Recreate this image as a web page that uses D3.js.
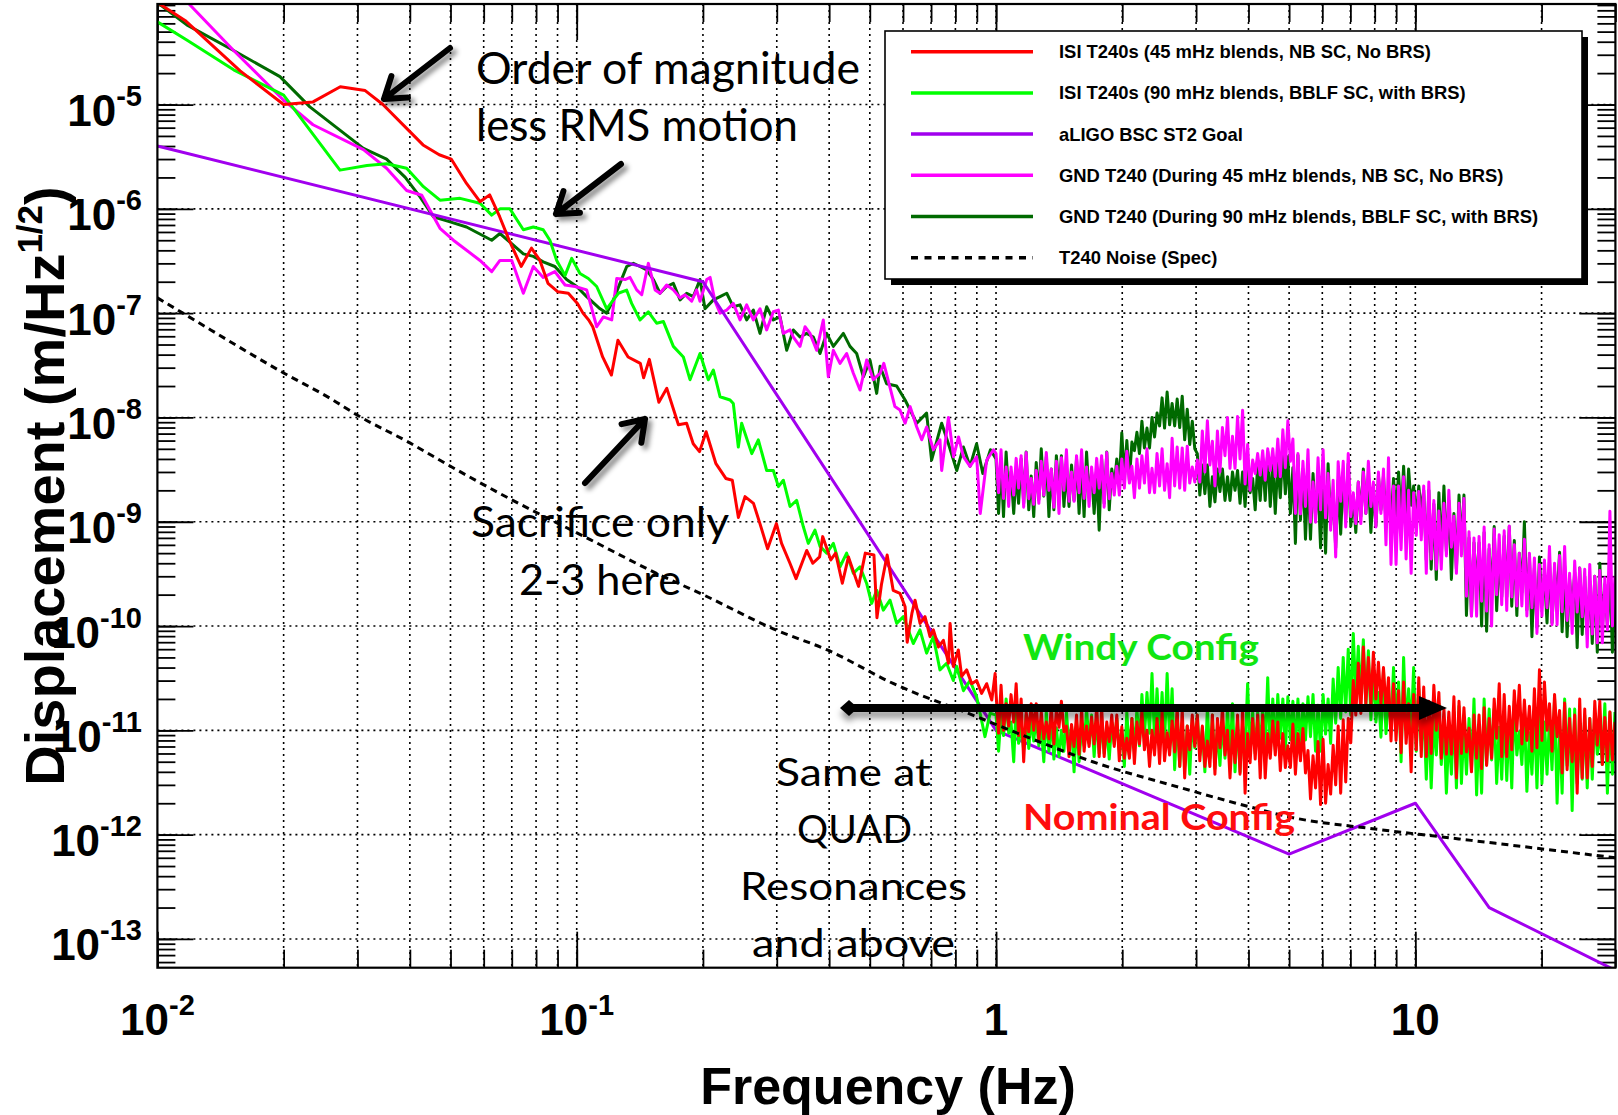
<!DOCTYPE html>
<html>
<head>
<meta charset="utf-8">
<script src="https://cdn.jsdelivr.net/npm/d3@7"></script>
<style>
  body { margin: 0; background: #fff; }
  svg { display: block; }
</style>
</head>
<body>
<svg id="chart" width="1618" height="1115"></svg>
<script>
// ---------------- data ----------------
// Low-frequency part of each spectrum: [frequency Hz, displacement m/sqrt(Hz)]
const isi45Low = [
  [0.01,9.5e-5],[0.01164,6.4e-5],[0.01575,2.1e-5],[0.02,1.0e-5],[0.0235,1.06e-5],[0.0273,1.48e-5],
  [0.0313,1.36e-5],[0.0345,1.0e-5],[0.04,5.5e-6],[0.043,4.1e-6],[0.047,3.3e-6],[0.0502,3.0e-6],
  [0.0546,1.75e-6],[0.0588,1.17e-6],[0.062,1.36e-6],[0.0655,8.4e-7],[0.069,5.0e-7],[0.0737,2.8e-7],
  [0.078,4.2e-7],[0.0817,3.2e-7],[0.0854,1.93e-7],[0.0902,1.6e-7],[0.0955,1.55e-7],[0.1004,1.24e-7],
  [0.1035,1.0e-7],[0.1068,8.6e-8],[0.1092,7.4e-8],[0.1153,3.8e-8],[0.121,2.55e-8],[0.1254,5.5e-8],
  [0.1326,3.8e-8],[0.1418,3.3e-8],[0.1444,2.4e-8],[0.149,3.6e-8],[0.157,1.4e-8],[0.164,1.9e-8],
  [0.1748,8.5e-9],[0.1828,8.8e-9],[0.1896,5.6e-9],[0.1963,4.7e-9],[0.2035,7.3e-9],[0.2148,3.6e-9],
  [0.2268,2.6e-9],[0.235,2.5e-9],[0.243,1.1e-9],[0.252,1.74e-9],[0.264,1.5e-9],[0.2735,9.6e-10],
  [0.2853,5.5e-10],[0.2994,9.6e-10],[0.308,6.2e-10],[0.3225,4.0e-10],[0.3335,2.85e-10],[0.3536,5.3e-10],
  [0.3657,4.0e-10],[0.3795,4.6e-10],[0.386,7.2e-10],[0.4036,4.3e-10],[0.4145,5.0e-10],[0.43,2.57e-10],
  [0.4447,4.6e-10],[0.47,2.4e-10],[0.4878,5.0e-10],[0.5115,4.8e-10],[0.52,1.2e-10],[0.533,2.5e-10],
  [0.55,4.8e-10],[0.5685,2.2e-10],[0.59,2.06e-10],[0.607,1.53e-10],[0.614,7e-11],[0.63,1.32e-10],
  [0.641,1.77e-10],[0.659,1.06e-10],[0.677,1.23e-10],[0.696,7.9e-11],[0.709,9.2e-11],[0.729,6.3e-11],
  [0.749,7.3e-11],[0.77,4.4e-11],[0.777,1.06e-10],[0.791,4.1e-11],[0.813,5.9e-11],[0.828,3.3e-11],
  [0.851,3.8e-11],[0.875,2.8e-11],[0.899,3.0e-11],[0.924,2.26e-11],[0.95,2.8e-11],[0.977,1.95e-11],
  [0.995,3.5e-11]
];

const isi90Low = [
  [0.01,6.2e-5],[0.01175,4.15e-5],[0.0152,2.15e-5],[0.02,1.23e-5],[0.02725,2.35e-6],[0.0316,2.6e-6],
  [0.0352,2.7e-6],[0.0393,2.45e-6],[0.0431,1.63e-6],[0.0472,1.21e-6],[0.0527,1.26e-6],[0.0588,1.13e-6],
  [0.0627,8.7e-7],[0.0656,1.0e-6],[0.0693,1.0e-6],[0.0746,6.3e-7],[0.0788,6.7e-7],[0.0832,6.3e-7],
  [0.0863,5.0e-7],[0.0896,3.2e-7],[0.0938,2.3e-7],[0.0973,3.35e-7],[0.1018,2.4e-7],[0.1066,2.15e-7],
  [0.1116,1.8e-7],[0.1179,1.1e-7],[0.1257,1.55e-7],[0.1316,1.66e-7],[0.1352,1.24e-7],[0.1416,8.6e-8],
  [0.1482,1.03e-7],[0.1551,8.0e-8],[0.161,8.3e-8],[0.170,4.8e-8],[0.1796,3.8e-8],[0.1863,2.3e-8],
  [0.1968,4.1e-8],[0.206,2.3e-8],[0.2118,2.85e-8],[0.2197,1.58e-8],[0.2321,1.47e-8],[0.2363,1.36e-8],
  [0.2429,5.2e-9],[0.2474,8.8e-9],[0.2615,4.5e-9],[0.2711,6.1e-9],[0.2838,3.1e-9],[0.2944,3.1e-9],
  [0.3027,2.17e-9],[0.311,2.5e-9],[0.3226,1.4e-9],[0.3346,1.6e-9],[0.347,9.0e-10],[0.3567,6.2e-10],
  [0.37,8.3e-10],[0.3804,5.8e-10],[0.3946,5.0e-10],[0.4094,6.2e-10],[0.4246,3.7e-10],[0.4403,5.0e-10],
  [0.4568,3.2e-10],[0.4738,3.7e-10],[0.4914,2.56e-10],[0.5051,1.65e-10],[0.5194,2.2e-10],[0.5386,1.42e-10],
  [0.5587,1.77e-10],[0.5795,1.06e-10],[0.6012,1.23e-10],[0.6349,6.8e-11],[0.6586,9.2e-11],[0.6831,5.5e-11],
  [0.7086,7.9e-11],[0.735,3.8e-11],[0.7624,4.4e-11],[0.7909,3.0e-11],[0.806,4.1e-11],[0.836,2.4e-11],
  [0.867,3.0e-11],[0.899,2.1e-11],[0.941,8.7e-12],[0.968,1.46e-11]
];

const gnd45Low = [
  [0.01,1.9e-4],[0.0119,9.2e-5],[0.0152,3.3e-5],[0.02,1.1e-5],[0.0235,6.4e-6],[0.031,3.7e-6],
  [0.0352,2.45e-6],[0.0393,1.5e-6],[0.0427,1.35e-6],[0.0472,6.5e-7],[0.0508,5.0e-7],[0.0588,3.2e-7],
  [0.0627,2.5e-7],[0.0656,3.2e-7],[0.070,3.2e-7],[0.0746,1.55e-7],[0.0788,2.8e-7],[0.0832,2.2e-7],
  [0.0887,2.5e-7],[0.0938,1.86e-7],[0.0991,1.8e-7],[0.1056,1.67e-7],[0.1116,7.4e-8],[0.1158,9.2e-8],
  [0.1212,8.6e-8],[0.1246,2.15e-7],[0.1304,2.1e-7],[0.134,2.2e-7],[0.139,1.67e-7],[0.1429,1.5e-7],
  [0.1482,3.0e-7],[0.1538,1.67e-7],[0.158,1.55e-7],[0.1639,1.86e-7],[0.170,1.67e-7],[0.1764,1.4e-7],
  [0.1812,1.5e-7],[0.188,1.3e-7],[0.1932,1.67e-7],[0.1968,1.3e-7],[0.2042,2.1e-7],[0.208,2.2e-7],
  [0.2137,1.3e-7],[0.2197,1.0e-7],[0.2279,1.07e-7],[0.2363,1.24e-7],[0.2452,8.6e-8],[0.2543,1.2e-7],
  [0.2638,8.6e-8],[0.2736,1.1e-7],[0.2838,6.9e-8],[0.2944,1.03e-7],[0.3027,1.07e-7],[0.311,6.4e-8],
  [0.3226,6.9e-8],[0.3286,5.9e-8],[0.3408,4.8e-8],[0.3503,7.4e-8],[0.36,6.4e-8],[0.3734,4.4e-8],
  [0.3873,8.6e-8],[0.3982,2.45e-8],[0.4093,4.4e-8],[0.4245,3.3e-8],[0.4403,4.1e-8],[0.4568,2.65e-8],
  [0.4738,1.83e-8],[0.4914,3.55e-8],[0.5097,2.3e-8],[0.529,2.65e-8],[0.54,3.3e-8],[0.574,1.27e-8],
  [0.5901,1.18e-8],[0.607,8.8e-9],[0.624,1.27e-8],[0.647,8.1e-9],[0.665,6.1e-9],[0.683,8.1e-9],
  [0.709,4.9e-9],[0.735,6.1e-9],[0.742,3.1e-9],[0.77,1.0e-8],[0.792,4.2e-9],[0.814,6.5e-9],
  [0.836,4.2e-9],[0.867,3.4e-9],[0.899,4.2e-9],[0.917,1.2e-9],[0.95,3.9e-9],[0.986,4.9e-9]
];

const gnd90Low = [
  [0.01,9.5e-5],[0.01175,5.8e-5],[0.0152,3.3e-5],[0.0196,1.85e-5],[0.0231,9.5e-6],[0.031,3.8e-6],
  [0.0352,3.0e-6],[0.039,2.0e-6],[0.0423,1.3e-6],[0.0455,8.4e-7],[0.0499,7.5e-7],[0.0546,6.7e-7],
  [0.0627,5.0e-7],[0.0656,5.8e-7],[0.0746,3.7e-7],[0.0788,3.5e-7],[0.0832,3.1e-7],[0.0887,2.8e-7],
  [0.0946,2.1e-7],[0.1,1.8e-7],[0.1056,1.44e-7],[0.1137,1.1e-7],[0.1179,1.0e-7],[0.1223,1.34e-7],
  [0.1268,1.93e-7],[0.1316,2.8e-7],[0.1365,3.0e-7],[0.1416,2.8e-7],[0.1468,2.6e-7],[0.1523,2.1e-7],
  [0.158,1.55e-7],[0.1639,1.8e-7],[0.170,1.93e-7],[0.1764,1.34e-7],[0.1829,1.55e-7],[0.1897,1.44e-7],
  [0.1968,2.1e-7],[0.2023,1.1e-7],[0.2118,1.34e-7],[0.2197,1.44e-7],[0.2279,1.55e-7],[0.2363,1.15e-7],
  [0.2452,1.2e-7],[0.2543,8.6e-8],[0.2638,1.07e-7],[0.2736,6.4e-8],[0.2838,1.15e-7],[0.2944,8.6e-8],
  [0.3054,9.2e-8],[0.3168,4.4e-8],[0.3286,6.9e-8],[0.3408,5.9e-8],[0.3535,6.4e-8],[0.3667,5.9e-8],
  [0.3804,4.1e-8],[0.3946,6.4e-8],[0.4093,4.8e-8],[0.4324,6.4e-8],[0.4485,4.8e-8],[0.4652,4.1e-8],
  [0.4826,2.45e-8],[0.5006,3.55e-8],[0.5193,1.7e-8],[0.529,3.1e-8],[0.5484,2.1e-8],[0.5795,2.0e-8],
  [0.607,1.47e-8],[0.647,8.8e-9],[0.683,1.1e-8],[0.702,3.9e-9],[0.742,8.8e-9],[0.77,5.6e-9],
  [0.806,3.1e-9],[0.836,5.2e-9],[0.867,3.4e-9],[0.899,5.6e-9],[0.93,2.9e-9],[0.97,4.9e-9]
];

// Frequency bins above 1 Hz shared by the four measured spectra (two interleaved sets)
const freqHi = [
  1.000,1.028,1.057,1.086,1.117,1.148,1.180,1.213,1.247,1.282,
  1.318,1.355,1.393,1.432,1.472,1.514,1.556,1.600,1.644,1.690,
  1.738,1.786,1.837,1.888,1.941,1.995,2.051,2.109,2.168,2.228,
  2.291,2.355,2.421,2.489,2.559,2.630,2.704,2.780,2.858,2.938,
  3.020,3.105,3.192,3.281,3.373,3.467,3.565,3.664,3.767,3.873,
  3.981,4.093,4.207,4.325,4.446,4.571,4.699,4.831,4.966,5.105,
  5.248,5.395,5.546,5.702,5.861,6.026,6.194,6.368,6.546,6.730,
  6.918,7.112,7.311,7.516,7.727,7.943,8.166,8.395,8.630,8.872,
  9.120,9.376,9.638,9.908,10.19,10.47,10.77,11.07,11.38,11.70,
  12.02,12.36,12.71,13.06,13.43,13.80,14.19,14.59,15.00,15.42,
  15.85,16.29,16.75,17.22,17.70,18.20,18.71,19.23,19.77,20.32,
  20.89,21.48,22.08,22.70,23.33,23.99,24.66,25.35,26.06,26.79,
  27.54,28.31,29.11,29.92
];
const freqHiMid = [
  1.014,1.042,1.072,1.102,1.132,1.164,1.197,1.230,1.265,1.300,
  1.337,1.374,1.413,1.452,1.493,1.535,1.578,1.622,1.667,1.714,
  1.762,1.811,1.862,1.914,1.968,2.023,2.080,2.138,2.198,2.259,
  2.323,2.388,2.455,2.523,2.594,2.667,2.742,2.818,2.897,2.979,
  3.062,3.148,3.236,3.327,3.420,3.516,3.614,3.715,3.819,3.926,
  4.036,4.150,4.266,4.385,4.508,4.634,4.764,4.898,5.035,5.176,
  5.321,5.470,5.623,5.781,5.943,6.109,6.281,6.457,6.637,6.823,
  7.015,7.211,7.413,7.621,7.834,8.054,8.279,8.511,8.750,8.995,
  9.247,9.506,9.772,10.05,10.33,10.62,10.91,11.22,11.53,11.86,
  12.19,12.53,12.88,13.24,13.61,14.00,14.39,14.79,15.20,15.63,
  16.07,16.52,16.98,17.46,17.95,18.45,18.97,19.50,20.04,20.61,
  21.18,21.78,22.39,23.01,23.66,24.32,25.00,25.70,26.42,27.16,
  27.92,28.71,29.51
];

// ISI T240s, 45 mHz blends (values at freqHi, then at freqHiMid)
const isi45Hi = [
  2.3e-11,2.7e-11,1.8e-11,2.2e-11,2.8e-11,2.0e-11,1.5e-11,1.8e-11,1.8e-11,1.5e-11,
  1.2e-11,1.7e-11,1.6e-11,1.9e-11,1.1e-11,1.14e-11,1.4e-11,1.6e-11,1.1e-11,1.34e-11,
  1.7e-11,1.66e-11,1.2e-11,1.4e-11,1.4e-11,1.08e-11,8.4e-12,1.3e-11,1.2e-11,1.5e-11,
  1.0e-11,1.0e-11,1.3e-11,1.5e-11,9.5e-12,1.23e-11,1.6e-11,1.6e-11,1.1e-11,1.4e-11,
  1.4e-11,1.1e-11,7.9e-12,1.4e-11,1.3e-11,1.64e-11,1.0e-11,9.9e-12,1.4e-11,1.64e-11,
  9.3e-12,1.3e-11,1.4e-11,1.4e-11,9.3e-12,1.23e-11,1.2e-11,9.3e-12,7.1e-12,1.15e-11,
  9.3e-12,1.04e-11,6.4e-12,5.7e-12,7.8e-12,8.2e-12,4.7e-12,7.2e-12,1.1e-11,1.26e-11,
  1.3e-11,3.0e-11,4.4e-11,6.3e-11,5.0e-11,5.6e-11,4.5e-11,4.0e-11,3.2e-11,2.8e-11,
  2.4e-11,2.9e-11,1.8e-11,2.2e-11,3.2e-11,2.6e-11,1.9e-11,2.7e-11,2.3e-11,1.6e-11,
  1.5e-11,2.1e-11,1.9e-11,1.65e-11,1.05e-11,1.4e-11,1.4e-11,1.65e-11,1.3e-11,2.0e-11,
  2.8e-11,2.2e-11,1.7e-11,2.4e-11,2.7e-11,1.95e-11,1.7e-11,2.5e-11,3.8e-11,2.9e-11,
  1.8e-11,2.2e-11,1.55e-11,1.83e-11,1.3e-11,1.4e-11,2.0e-11,1.6e-11,1.3e-11,1.9e-11,
  1.9e-11,1.33e-11,1.5e-11,1.2e-11
];
const isi45HiMid = [
  9.4e-12,1.0e-11,1.1e-11,1.2e-11,8.9e-12,5.0e-12,9.7e-12,1.0e-11,7.9e-12,8.3e-12,
  8.3e-12,7.4e-12,1.07e-11,9.7e-12,5.6e-12,7.0e-12,5.9e-12,6.3e-12,7.0e-12,7.4e-12,
  5.6e-12,5.6e-12,7.8e-12,7.0e-12,5.1e-12,5.4e-12,5.4e-12,4.8e-12,7.4e-12,6.5e-12,
  4.5e-12,5.8e-12,4.8e-12,5.1e-12,5.8e-12,6.2e-12,4.5e-12,3.5e-12,6.5e-12,7.0e-12,
  5.1e-12,4.5e-12,4.5e-12,3.8e-12,6.8e-12,5.8e-12,3.5e-12,4.9e-12,3.8e-12,2.5e-12,
  4.9e-12,5.3e-12,3.5e-12,3.5e-12,5.4e-12,5.8e-12,4.1e-12,4.4e-12,4.4e-12,3.8e-12,
  5.1e-12,3.9e-12,2.2e-12,2.8e-12,1.94e-12,2.0e-12,2.45e-12,3.0e-12,2.5e-12,3.2e-12,
  7.6e-12,1.4e-11,1.45e-11,1.8e-11,1.77e-11,2.0e-11,1.8e-11,1.6e-11,7.9e-12,8.0e-12,
  6.1e-12,7.5e-12,4.0e-12,6.5e-12,5.6e-12,5.6e-12,6.0e-12,1.0e-11,5.4e-12,5.9e-12,
  5.9e-12,3.5e-12,6.0e-12,6.2e-12,4.0e-12,5.4e-12,4.3e-12,4.6e-12,5.4e-12,8.4e-12,
  5.6e-12,5.6e-12,6.5e-12,9.9e-12,7.4e-12,8.0e-12,6.3e-12,6.8e-12,8.0e-12,1.0e-11,
  6.3e-12,8.7e-12,3.9e-12,4.2e-12,5.0e-12,2.5e-12,3.5e-12,3.5e-12,4.5e-12,7.2e-12,
  4.7e-12,5.1e-12,5.2e-12
];

// ISI T240s, 90 mHz blends
const isi90Hi = [
  1.4e-11,1.4e-11,2.0e-11,1.2e-11,1.8e-11,1.1e-11,1.4e-11,1.3e-11,1.33e-11,1.06e-11,
  1.5e-11,1.3e-11,1.06e-11,1.0e-11,1.5e-11,1.1e-11,1.26e-11,1.1e-11,1.6e-11,1.4e-11,
  1.4e-11,1.2e-11,1.1e-11,1.2e-11,1.3e-11,1.0e-11,1.5e-11,1.3e-11,1.6e-11,2.2e-11,
  2.3e-11,3.5e-11,2.5e-11,2.3e-11,3.5e-11,2.5e-11,1.5e-11,1.2e-11,1.1e-11,1.3e-11,
  1.4e-11,1.06e-11,1.65e-11,1.4e-11,1.05e-11,1.3e-11,1.65e-11,1.8e-11,1.3e-11,1.1e-11,
  2.8e-11,1.5e-11,1.5e-11,1.7e-11,3.2e-11,2.0e-11,2.2e-11,2.0e-11,2.1e-11,1.9e-11,
  2.0e-11,1.8e-11,2.1e-11,2.2e-11,1.74e-11,2.2e-11,2.0e-11,3.1e-11,4.0e-11,5.0e-11,
  6.0e-11,8.5e-11,6.4e-11,7.4e-11,5.8e-11,4.0e-11,2.3e-11,3.7e-11,2.1e-11,4.0e-11,
  2.9e-11,5.0e-11,2.5e-11,4.0e-11,2.5e-11,1.6e-11,1.46e-11,1.3e-11,1.8e-11,1.2e-11,
  9.7e-12,1.5e-11,1.7e-11,1.1e-11,1.3e-11,2.0e-11,1.1e-11,2.0e-11,1.6e-11,1.6e-11,
  1.07e-11,1.5e-11,1.3e-11,1.9e-11,9.7e-12,1.5e-11,9.5e-12,1.5e-11,1.7e-11,1.2e-11,
  1.3e-11,2.0e-11,1.1e-11,2.0e-11,1.6e-11,1.6e-11,1.1e-11,1.4e-11,1.3e-11,1.4e-11,
  9.7e-12,1.8e-11,1.5e-11,1.5e-11
];
const isi90HiMid = [
  6.3e-12,8.9e-12,9.4e-12,5.0e-12,7.5e-12,6.5e-12,6.7e-12,7.9e-12,7.1e-12,5.0e-12,
  6.3e-12,5.3e-12,5.6e-12,6.3e-12,6.7e-12,4.0e-12,5.0e-12,7.1e-12,7.5e-12,5.6e-12,
  6.0e-12,6.0e-12,5.3e-12,7.4e-12,6.5e-12,4.5e-12,5.8e-12,6.7e-12,7.1e-12,8.7e-12,
  9.4e-12,7.9e-12,7.9e-12,7.5e-12,8.0e-12,4.2e-12,4.5e-12,4.5e-12,3.8e-12,6.8e-12,
  5.8e-12,4.0e-12,5.4e-12,4.3e-12,4.6e-12,5.4e-12,5.8e-12,4.0e-12,4.0e-12,6.2e-12,
  6.0e-12,6.0e-12,6.5e-12,6.5e-12,6.0e-12,6.5e-12,8.4e-12,6.3e-12,8.1e-12,6.7e-12,
  7.2e-12,8.1e-12,8.7e-12,6.3e-12,6.3e-12,9.2e-12,7.5e-12,1.17e-11,1.3e-11,1.5e-11,
  1.4e-11,2.2e-11,2.0e-11,1.7e-11,1.26e-11,1.2e-11,8.6e-12,9.3e-12,1.1e-11,1.2e-11,
  5.0e-12,1.0e-11,1.0e-11,6.3e-12,7.1e-12,3.4e-12,2.8e-12,5.8e-12,4.7e-12,2.5e-12,
  3.8e-12,2.8e-12,3.1e-12,3.8e-12,4.2e-12,2.4e-12,2.5e-12,4.7e-12,5.2e-12,3.1e-12,
  3.4e-12,3.3e-12,2.8e-12,5.8e-12,4.7e-12,2.6e-12,3.8e-12,2.8e-12,3.1e-12,3.8e-12,
  4.2e-12,2.0e-12,2.5e-12,4.6e-12,1.7e-12,3.1e-12,3.4e-12,2.8e-12,3.4e-12,5.9e-12,
  4.7e-12,2.5e-12,3.8e-12
];

// GND T240 during 45 mHz blends
const gnd45Hi = [
  4.5e-9,4.9e-9,3.35e-9,3.35e-9,4.05e-9,4.3e-9,4.6e-9,2.6e-9,3.1e-9,3.8e-9,
  4.6e-9,3.2e-9,3.8e-9,4.1e-9,4.9e-9,3.0e-9,4.3e-9,4.9e-9,3.35e-9,3.35e-9,
  4.05e-9,4.3e-9,4.6e-9,2.9e-9,3.4e-9,4.0e-9,4.75e-9,3.4e-9,4.0e-9,4.3e-9,
  5.0e-9,3.25e-9,4.5e-9,5.0e-9,3.6e-9,6.3e-9,5.2e-9,5.1e-9,5.3e-9,3.35e-9,
  3.9e-9,7.4e-9,9.3e-9,5.9e-9,7.4e-9,8.0e-9,1.0e-8,6.6e-9,1.02e-8,1.17e-8,
  5.5e-9,3.9e-9,4.5e-9,4.8e-9,5.0e-9,5.0e-9,6.2e-9,7.6e-9,9.3e-9,6.2e-9,
  4.5e-9,3.8e-9,4.9e-9,2.4e-9,4.1e-9,4.9e-9,2.9e-9,2.5e-9,3.75e-9,3.8e-9,
  4.5e-9,1.9e-9,2.4e-9,3.0e-9,3.8e-9,2.4e-9,3.0e-9,3.2e-9,4.1e-9,2.2e-9,
  2.2e-9,2.7e-9,2.0e-9,1.9e-9,1.95e-9,2.2e-9,2.4e-9,1.6e-9,1.27e-9,1.5e-9,
  2.0e-9,1.13e-9,1.5e-9,1.67e-9,8.0e-10,7.0e-10,7.2e-10,8.9e-10,6.0e-10,8.5e-10,
  7.5e-10,8.2e-10,9.1e-10,6.0e-10,5.0e-10,6.8e-10,5.0e-10,4.5e-10,3.9e-10,4.3e-10,
  5.8e-10,4.0e-10,4.75e-10,5.8e-10,3.2e-10,4.2e-10,3.6e-10,3.5e-10,3.9e-10,3.0e-10,
  3.4e-10,2.9e-10,1.26e-9,3.0e-10
];
const gnd45HiMid = [
  1.9e-9,1.67e-9,1.4e-9,1.8e-9,2.1e-9,1.38e-9,1.66e-9,1.47e-9,1.5e-9,1.8e-9,
  2.0e-9,1.38e-9,1.2e-9,2.0e-9,1.57e-9,1.57e-9,1.9e-9,1.67e-9,1.4e-9,1.9e-9,
  2.1e-9,1.38e-9,1.66e-9,1.8e-9,1.8e-9,2.1e-9,2.35e-9,1.7e-9,2.1e-9,2.35e-9,
  1.9e-9,1.9e-9,2.2e-9,2.0e-9,1.7e-9,2.2e-9,2.1e-9,2.0e-9,2.35e-9,2.4e-9,
  2.4e-9,3.0e-9,3.5e-9,2.2e-9,3.0e-9,4.3e-9,3.25e-9,3.25e-9,4.0e-9,2.3e-9,
  2.0e-9,2.9e-9,2.8e-9,2.5e-9,3.1e-9,2.7e-9,2.7e-9,3.3e-9,3.8e-9,1.2e-9,
  1.19e-9,1.4e-9,9.9e-10,9.9e-10,1.3e-9,1.09e-9,8.3e-10,4.6e-10,1.57e-9,8.9e-10,
  1.12e-9,9.6e-10,9.6e-10,1.2e-9,1.4e-9,8.9e-10,1.2e-9,6.0e-10,3.9e-10,3.9e-10,
  5.4e-10,4.4e-10,3.2e-10,7.4e-10,6.7e-10,3.2e-10,4.4e-10,3.5e-10,3.5e-10,4.7e-10,
  5.7e-10,3.2e-10,4.7e-10,1.93e-10,1.24e-10,1.24e-10,1.73e-10,1.39e-10,1.0e-10,2.0e-10,
  1.6e-10,1.41e-10,1.9e-10,1.56e-10,1.56e-10,1.25e-10,1.5e-10,8.5e-11,1.25e-10,1.5e-10,
  1.03e-10,1.03e-10,1.37e-10,1.13e-10,8.5e-11,1.36e-10,1.23e-10,6.3e-11,8.4e-11,6.9e-11,
  6.9e-11,9.2e-11,1.0e-10
];

// GND T240 during 90 mHz blends
const gnd90Hi = [
  4.0e-9,3.7e-9,4.65e-9,3.0e-9,3.0e-9,4.0e-9,4.65e-9,2.75e-9,3.7e-9,5.0e-9,
  4.2e-9,3.2e-9,4.3e-9,4.3e-9,3.2e-9,3.5e-9,4.0e-9,3.7e-9,4.65e-9,3.0e-9,
  3.0e-9,4.0e-9,4.65e-9,3.2e-9,4.0e-9,7.1e-9,6.0e-9,5.8e-9,7.2e-9,9.2e-9,
  7.9e-9,1.0e-8,1.1e-8,1.54e-8,1.75e-8,1.36e-8,1.5e-8,1.6e-8,1.2e-8,9.2e-9,
  4.5e-9,3.5e-9,3.5e-9,2.7e-9,3.2e-9,3.2e-9,2.7e-9,3.0e-9,3.1e-9,3.0e-9,
  3.4e-9,2.6e-9,3.5e-9,4.0e-9,4.7e-9,3.6e-9,3.8e-9,5.0e-9,4.2e-9,3.3e-9,
  4.35e-9,3.2e-9,2.8e-9,2.9e-9,2.3e-9,2.6e-9,3.6e-9,1.9e-9,2.5e-9,2.9e-9,
  3.6e-9,1.8e-9,2.4e-9,3.2e-9,2.6e-9,2.1e-9,2.75e-9,2.75e-9,2.1e-9,2.6e-9,
  3.0e-9,3.4e-9,3.2e-9,2.2e-9,2.2e-9,2.0e-9,2.0e-9,1.48e-9,1.9e-9,2.2e-9,
  1.6e-9,1.2e-9,1.8e-9,1.8e-9,7.0e-10,6.3e-10,6.3e-10,7.9e-10,5.5e-10,9.0e-10,
  4.8e-10,7.3e-10,9.0e-10,6.6e-10,5.0e-10,1.0e-9,4.6e-10,3.6e-10,4.6e-10,3.1e-10,
  4.2e-10,3.4e-10,5.1e-10,3.8e-10,2.8e-10,3.3e-10,3.6e-10,3.0e-10,2.7e-10,3.0e-10,
  4.0e-10,2.5e-10,3.2e-10,2.2e-10
];
const gnd90HiMid = [
  1.2e-9,1.12e-9,1.76e-9,1.2e-9,1.5e-9,1.5e-9,1.3e-9,1.12e-9,1.63e-9,1.76e-9,
  1.12e-9,1.3e-9,1.9e-9,1.4e-9,1.4e-9,1.6e-9,1.2e-9,1.12e-9,1.76e-9,1.2e-9,
  8.3e-10,1.5e-9,1.3e-9,2.2e-9,2.4e-9,2.6e-9,2.5e-9,4.8e-9,4.5e-9,5.1e-9,
  5.1e-9,6.5e-9,8.3e-9,7.9e-9,8.5e-9,8.3e-9,8.0e-9,6.1e-9,5.5e-9,5.0e-9,
  1.8e-9,1.86e-9,1.4e-9,1.55e-9,1.95e-9,1.6e-9,1.6e-9,2.0e-9,1.5e-9,1.4e-9,
  1.9e-9,1.3e-9,1.6e-9,1.6e-9,1.4e-9,1.2e-9,1.7e-9,1.85e-9,1.2e-9,6.2e-10,
  1.03e-9,6.8e-10,6.8e-10,1.15e-9,5.6e-10,5.0e-10,9.3e-10,5.6e-10,7.6e-10,1.05e-9,
  9.1e-10,7.9e-10,1.12e-9,1.2e-9,7.9e-10,9.1e-10,1.3e-9,9.8e-10,9.8e-10,1.1e-9,
  1.06e-9,1.0e-9,1.44e-9,1.06e-9,1.28e-9,4.3e-10,3.5e-10,2.8e-10,4.7e-10,5.2e-10,
  2.8e-10,3.5e-10,5.8e-10,1.26e-10,1.26e-10,2.2e-10,1.0e-10,8.9e-11,1.8e-10,1.4e-10,
  1.9e-10,1.9e-10,1.55e-10,1.26e-10,2.1e-10,1.43e-10,7.9e-11,9.7e-11,1.58e-10,1.07e-10,
  1.07e-10,1.74e-10,8.8e-11,7.9e-11,1.43e-10,6.2e-11,8.3e-11,8.3e-11,6.8e-11,5.6e-11,
  9.2e-11,1.0e-10,5.6e-11
];

// Requirement curve and instrument noise model
const goalCurve = [[0.01,4e-6],[0.2,2e-7],[1,1e-11],[5,6.5e-13],[10,2e-12],[15,2e-13],[30,5e-14]];
const t240Noise = [
  [0.01,1.4e-7],[0.0115,1.0e-7],[0.02,2.67e-8],[0.026,1.5e-8],[0.03,1.05e-8],[0.04,5.7e-9],
  [0.05,3.4e-9],[0.065,1.9e-9],[0.108,6.7e-10],[0.155,3.2e-10],[0.2,2.0e-10],[0.3,9.1e-11],
  [0.396,5.9e-11],[0.57,2.8e-11],[0.9,1.35e-11],[1.18,8.7e-12],[1.7,5.0e-12],[2.77,2.8e-12],
  [4.0,1.86e-12],[5.0,1.48e-12],[7.9,1.14e-12],[12.7,9.1e-13],[30,6.0e-13]
];

const legendLabels = [
  "ISI T240s (45 mHz blends, NB SC, No BRS)",
  "ISI T240s (90 mHz blends, BBLF SC, with BRS)",
  "aLIGO BSC ST2 Goal",
  "GND T240 (During 45 mHz blends, NB SC, No BRS)",
  "GND T240 (During 90 mHz blends, BBLF SC, with BRS)",
  "T240 Noise (Spec)"
];
const xTickValues = [0.01, 0.1, 1, 10];
const xTickLabels = [["10", "-2"], ["10", "-1"], ["1", ""], ["10", ""]];
const yTickExponents = [-5, -6, -7, -8, -9, -10, -11, -12, -13];

// ---------------- styles ----------------
const seriesColors = ["#ff0000", "#00ff00", "#a100ee", "#ff00ff", "#006a00", "#000000"];
const axisFont = "'Liberation Sans', Arial, Helvetica, sans-serif";
const noteFont = "Lato, 'Open Sans', sans-serif";

// ---------------- layout ----------------
const svg = d3.select("#chart");
const L = 157.4, R = 1615.4, T = 4, B = 967.7;
const x = d3.scaleLog().domain([0.01, 30]).range([L, R]);
const y = d3.scaleLog().domain([5.3e-14, 9.2e-5]).range([B, T]);

const defs = svg.append("defs");
defs.append("clipPath").attr("id", "plotClip")
  .append("rect").attr("x", L).attr("y", T).attr("width", R - L).attr("height", B - T);
const sh = defs.append("filter").attr("id", "shadow")
  .attr("x", "-20%").attr("y", "-20%").attr("width", "150%").attr("height", "160%");
sh.append("feDropShadow").attr("dx", 4).attr("dy", 4).attr("stdDeviation", 2.5)
  .attr("flood-color", "#000").attr("flood-opacity", 0.45);
const sh2 = defs.append("filter").attr("id", "shadowDown")
  .attr("x", "-5%").attr("y", "-100%").attr("width", "110%").attr("height", "400%");
sh2.append("feDropShadow").attr("dx", 0).attr("dy", 6).attr("stdDeviation", 3)
  .attr("flood-color", "#000").attr("flood-opacity", 0.4);

// tick positions
const xMinor = [], yMinor = [];
for (let e = -2; e <= 1; e++) for (let m = 1; m <= 9; m++) {
  const v = m * Math.pow(10, e);
  if (v >= 0.01 && v <= 30) xMinor.push(v);
}
for (let e = -14; e <= -5; e++) for (let m = 1; m <= 9; m++) {
  const v = m * Math.pow(10, e);
  if (v >= 5.3e-14 && v <= 9.2e-5) yMinor.push(v);
}
const xMajor = xTickValues;
const yMajor = yTickExponents.map(e => Math.pow(10, e));

// grid
const grid = svg.append("g").attr("stroke", "#000").attr("stroke-width", 1.6)
  .attr("stroke-dasharray", "2,4").attr("fill", "none");
xMinor.filter(v => v > 0.01 && v < 30).forEach(v => {
  grid.append("line").attr("x1", x(v)).attr("x2", x(v)).attr("y1", T).attr("y2", B);
});
yMajor.forEach(v => {
  grid.append("line").attr("x1", L).attr("x2", R).attr("y1", y(v)).attr("y2", y(v));
});

// axes ticks (inward)
function tickAxis(axis, tr) {
  const g = svg.append("g").attr("transform", tr).call(axis);
  g.select(".domain").remove();
  g.selectAll(".tick line").attr("stroke", "#000").attr("stroke-width", 1.8);
  g.selectAll(".tick text").remove();
}
tickAxis(d3.axisBottom(x).tickValues(xMinor).tickSize(-18).tickFormat(""), `translate(0,${B})`);
tickAxis(d3.axisBottom(x).tickValues(xMajor).tickSize(-36).tickFormat(""), `translate(0,${B})`);
tickAxis(d3.axisTop(x).tickValues(xMinor).tickSize(-18).tickFormat(""), `translate(0,${T})`);
tickAxis(d3.axisTop(x).tickValues(xMajor).tickSize(-36).tickFormat(""), `translate(0,${T})`);
tickAxis(d3.axisLeft(y).tickValues(yMinor).tickSize(-18).tickFormat(""), `translate(${L},0)`);
tickAxis(d3.axisLeft(y).tickValues(yMajor).tickSize(-36).tickFormat(""), `translate(${L},0)`);
tickAxis(d3.axisRight(y).tickValues(yMinor).tickSize(-18).tickFormat(""), `translate(${R},0)`);
tickAxis(d3.axisRight(y).tickValues(yMajor).tickSize(-36).tickFormat(""), `translate(${R},0)`);

// series: low-frequency points followed by the two interleaved high-frequency bin sets
const withHi = (low, hi, hiMid) => low
  .concat(freqHi.map((f, i) => [f, hi[i]]), freqHiMid.map((f, i) => [f, hiMid[i]]))
  .sort((a, b) => a[0] - b[0]);
const series = [
  { data: withHi(gnd90Low, gnd90Hi, gnd90HiMid), color: seriesColors[4] },
  { data: withHi(gnd45Low, gnd45Hi, gnd45HiMid), color: seriesColors[3] },
  { data: goalCurve, color: seriesColors[2] },
  { data: withHi(isi90Low, isi90Hi, isi90HiMid), color: seriesColors[1] },
  { data: withHi(isi45Low, isi45Hi, isi45HiMid), color: seriesColors[0] },
  { data: t240Noise, color: seriesColors[5], dash: "7,5", curve: d3.curveMonotoneX }
];
const plot = svg.append("g").attr("clip-path", "url(#plotClip)");
series.forEach(s => {
  const line = d3.line().x(d => x(d[0])).y(d => y(d[1])).curve(s.curve || d3.curveLinear);
  plot.append("path").attr("d", line(s.data)).attr("fill", "none")
    .attr("stroke", s.color).attr("stroke-width", 3)
    .attr("stroke-linejoin", "round")
    .attr("stroke-dasharray", s.dash || null);
});

// frame
svg.append("rect").attr("x", L).attr("y", T).attr("width", R - L).attr("height", B - T)
  .attr("fill", "none").attr("stroke", "#000").attr("stroke-width", 2.2);

// tick labels
const yl = svg.append("g").attr("font-family", axisFont).attr("font-weight", "bold")
  .attr("font-size", 44).attr("fill", "#000");
yTickExponents.forEach(e => {
  const t = yl.append("text").attr("x", 142).attr("y", y(Math.pow(10, e)) + 21.5)
    .attr("text-anchor", "end");
  t.append("tspan").text("10");
  t.append("tspan").attr("dy", -20).attr("font-size", 29).text(String(e));
});
const xl = svg.append("g").attr("font-family", axisFont).attr("font-weight", "bold")
  .attr("font-size", 44).attr("fill", "#000");
xTickValues.forEach((v, i) => {
  const t = xl.append("text").attr("x", x(v)).attr("y", 1035).attr("text-anchor", "middle");
  t.append("tspan").text(xTickLabels[i][0]);
  if (xTickLabels[i][1]) t.append("tspan").attr("dy", -20).attr("font-size", 29).text(xTickLabels[i][1]);
});

// axis titles
svg.append("text").attr("x", 888).attr("y", 1104).attr("text-anchor", "middle")
  .attr("font-family", axisFont).attr("font-weight", "bold").attr("font-size", 52)
  .text("Frequency (Hz)");
const yt = svg.append("text").attr("transform", "translate(64,486) rotate(-90)")
  .attr("text-anchor", "middle").attr("font-family", axisFont).attr("font-weight", "bold")
  .attr("font-size", 56);
yt.append("tspan").text("Displacement (m/Hz");
yt.append("tspan").attr("dy", -22).attr("font-size", 35).text("1/2");
yt.append("tspan").attr("dy", 22).text(")");

// legend
const lg = svg.append("g");
lg.append("rect").attr("x", 891).attr("y", 37).attr("width", 697).attr("height", 248).attr("fill", "#000");
lg.append("rect").attr("x", 885).attr("y", 31).attr("width", 697).attr("height", 248)
  .attr("fill", "#fff").attr("stroke", "#000").attr("stroke-width", 1.6);
legendLabels.forEach((label, i) => {
  const cy = 51.7 + i * 41.2;
  lg.append("line").attr("x1", 911).attr("x2", 1033).attr("y1", cy).attr("y2", cy)
    .attr("stroke", seriesColors[i]).attr("stroke-width", 3.5)
    .attr("stroke-dasharray", i === 5 ? "7,6.5" : null);
  lg.append("text").attr("x", 1059).attr("y", cy + 6.5)
    .attr("font-family", axisFont).attr("font-weight", "bold").attr("font-size", 18.4)
    .text(label);
});

// annotations
const notes = svg.append("g").attr("font-family", noteFont).attr("fill", "#000");
function note(txt, x0, yb, w, size, opts = {}) {
  return notes.append("text").attr("x", x0).attr("y", yb).attr("font-size", size)
    .attr("textLength", w).attr("lengthAdjust", "spacingAndGlyphs")
    .attr("font-weight", opts.weight || "normal").attr("fill", opts.fill || "#000")
    .text(txt);
}
note("Order of magnitude", 476, 84, 384, 44);
note("less RMS motion", 476, 141, 322, 44);
note("Sacrifice only", 471, 537, 258, 42);
note("2-3 here", 519, 595, 162, 42);
note("Same at", 776, 786, 155, 38);
note("QUAD", 797, 843, 115, 38);
note("Resonances", 740, 900, 227, 38);
note("and above", 752, 957, 203, 38);
note("Windy Config", 1023, 660, 236, 36, { weight: "bold", fill: "#11e611" });
note("Nominal Config", 1023, 830, 272, 36, { weight: "bold", fill: "#ff0d0d" });

// arrows
const arrows = svg.append("g").attr("filter", "url(#shadow)").attr("stroke", "#000")
  .attr("fill", "none").attr("stroke-width", 6).attr("stroke-linecap", "round")
  .attr("stroke-linejoin", "round");
function arrow(x0, y0, x1, y1) {
  const a = Math.atan2(y1 - y0, x1 - x0), h = 24, s = 0.6;
  const p1 = [x1 - h * Math.cos(a - s), y1 - h * Math.sin(a - s)];
  const p2 = [x1 - h * Math.cos(a + s), y1 - h * Math.sin(a + s)];
  arrows.append("path").attr("d",
    `M${x0},${y0}L${x1},${y1}M${p1[0]},${p1[1]}L${x1},${y1}L${p2[0]},${p2[1]}`);
}
arrow(450, 48, 384, 99);
arrow(621, 164, 556, 214);
arrow(585, 483, 645, 419);

const ha = svg.append("g").attr("filter", "url(#shadowDown)");
ha.append("line").attr("x1", 849).attr("x2", 1425).attr("y1", 708).attr("y2", 708)
  .attr("stroke", "#000").attr("stroke-width", 8);
ha.append("path").attr("d", "M840,708L849,700L858,708L849,716Z").attr("fill", "#000");
ha.append("path").attr("d", "M1419,696L1447,708L1419,720Z").attr("fill", "#000");
</script>
</body>
</html>
